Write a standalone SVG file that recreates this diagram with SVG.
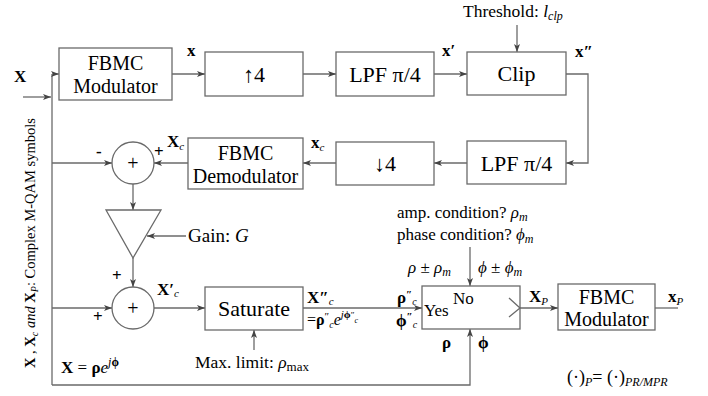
<svg xmlns="http://www.w3.org/2000/svg" width="708" height="396" viewBox="0 0 708 396" font-family="'Liberation Serif', 'DejaVu Serif', serif">
<defs>
<marker id="ah" viewBox="0 0 8 6" refX="8" refY="3" markerWidth="8" markerHeight="6" markerUnits="userSpaceOnUse" orient="auto">
<path d="M0,0 L8,3 L0,6 L2,3 Z" fill="#444"/>
</marker>
<style>
.box{fill:#fff;stroke:#6a6a6a;stroke-width:1.3}
.ln{fill:none;stroke:#6a6a6a;stroke-width:1.3}
.ar{fill:none;stroke:#6a6a6a;stroke-width:1.3;marker-end:url(#ah)}
text{font-family:"Liberation Serif","DejaVu Serif",serif;fill:#000}
.bt{font-size:20px;text-anchor:middle}
.bt2{font-size:22px;text-anchor:middle}
.lb{font-size:17px;font-weight:bold}
.it{font-style:italic}
.sm{font-size:17px}
.sub{font-size:11px}
</style>
</defs>
<rect width="708" height="396" fill="#fff"/>

<g id="connectors">
<path class="ar" d="M23,97 H51"/>
<path class="ln" d="M52,74 V385"/>
<path class="ar" d="M52,74 H59"/>
<path class="ar" d="M172,74 H205"/>
<path class="ar" d="M303,74 H336"/>
<path class="ar" d="M434,74 H467"/>
<path class="ar" d="M517,25 V52"/>
<path class="ar" d="M566,74 H588 V163 H566"/>
<path class="ar" d="M467,163 H434"/>
<path class="ar" d="M336,163 H303"/>
<path class="ar" d="M188,163 H154"/>
<path class="ar" d="M52,163 H112"/>
<path class="ar" d="M133,184 V210"/>
<path class="ar" d="M186,236 H147"/>
<path class="ar" d="M133,258 V287"/>
<path class="ar" d="M52,308 H112"/>
<path class="ar" d="M154,308 H205"/>
<path class="ar" d="M254,350 V330"/>
<path class="ar" d="M303,308 H422"/>
<path class="ar" d="M470,247 V286"/>
<path class="ar" d="M52,385 H470 V329"/>
<path class="ar" d="M520,308 H558"/>
<path class="ln" d="M655,308 H678"/>
</g>

<g id="fbmc-mod">
<rect class="box" x="59" y="48" width="113" height="52"/>
<text class="bt" x="115.5" y="70">FBMC</text>
<text class="bt" x="115.5" y="93">Modulator</text>
</g>
<g id="up4">
<rect class="box" x="205" y="52" width="98" height="44"/>
<text class="bt2" x="254" y="82">↑4</text>
</g>
<g id="lpf1">
<rect class="box" x="336" y="52" width="98" height="44"/>
<text class="bt2" x="385" y="82">LPF π/4</text>
</g>
<g id="clip">
<rect class="box" x="467" y="52" width="99" height="43"/>
<text class="bt2" x="516.5" y="81">Clip</text>
</g>
<g id="lpf2">
<rect class="box" x="467" y="141" width="99" height="43"/>
<text class="bt2" x="516.5" y="171">LPF π/4</text>
</g>
<g id="down4">
<rect class="box" x="336" y="142" width="98" height="43"/>
<text class="bt2" x="385" y="171">↓4</text>
</g>
<g id="fbmc-demod">
<rect class="box" x="188" y="138" width="115" height="51"/>
<text class="bt" x="245.5" y="160">FBMC</text>
<text class="bt" x="245.5" y="183">Demodulator</text>
</g>
<g id="sum1">
<circle class="box" cx="133" cy="163" r="21"/>
<text x="133" y="170" font-size="20" text-anchor="middle" fill="#555">+</text>
</g>
<g id="gain">
<path class="box" d="M106,210 L161,210 L133,258 Z"/>
</g>
<g id="sum2">
<circle class="box" cx="133" cy="308" r="21"/>
<text x="133" y="315" font-size="20" text-anchor="middle" fill="#555">+</text>
</g>
<g id="saturate">
<rect class="box" x="205" y="287" width="98" height="43"/>
<text class="bt2" x="254" y="316">Saturate</text>
</g>
<g id="switch">
<rect class="box" x="422" y="286" width="98" height="43"/>
<path class="ln" d="M509,298 L520,308 L509,317"/>
<text class="sm" x="424" y="316">Yes</text>
<text class="sm" x="453" y="304">No</text>
</g>
<g id="fbmc-mod2">
<rect class="box" x="558" y="284" width="97" height="46"/>
<text class="bt" x="606.5" y="304">FBMC</text>
<text class="bt" x="606.5" y="326">Modulator</text>
</g>

<g id="labels">
<text class="lb" x="14" y="82" font-size="16">X</text>
<text class="lb" x="187" y="56">x</text>
<text class="lb" x="442" y="56">x′</text>
<text class="lb" x="575" y="57">x″</text>
<text font-size="17.5" x="463" y="17">Threshold: <tspan class="it">l</tspan><tspan class="it" font-size="12" dy="3">clp</tspan></text>
<text class="lb" x="311" y="148">x<tspan class="it sub" font-weight="normal" dy="3">c</tspan></text>
<text class="lb" x="167" y="147">X<tspan class="it sub" font-weight="normal" dy="3">c</tspan></text>
<text class="lb" x="154" y="157">+</text>
<text class="lb" x="96" y="157">-</text>
<text font-size="19" x="188" y="242">Gain: <tspan class="it">G</tspan></text>
<text class="lb" x="112" y="281">+</text>
<text class="lb" x="93" y="322">+</text>
<text class="lb" x="157" y="295">X′<tspan class="it sub" font-weight="normal" font-size="13" dy="2">c</tspan></text>
<text class="lb" x="307" y="303">X″<tspan class="it sub" font-weight="normal" font-size="13" dy="2">c</tspan></text>
<text font-size="16" x="307" y="325">=<tspan font-weight="bold">ρ</tspan><tspan font-size="11" dy="-5">″</tspan><tspan class="it" font-size="10" dy="8">c</tspan><tspan class="it" dy="-3">e</tspan><tspan class="it" font-size="11" dy="-7">j</tspan><tspan font-size="11" font-weight="bold">ϕ</tspan><tspan font-size="9">″</tspan><tspan class="it" font-size="8" dy="5">c</tspan></text>
<text font-size="17.5" x="195" y="368">Max. limit: <tspan class="it">ρ</tspan><tspan font-size="13" dy="3">max</tspan></text>
<text font-size="17" x="397" y="218">amp. condition? <tspan class="it">ρ</tspan><tspan class="it" font-size="12" dy="3">m</tspan></text>
<text font-size="17" x="397" y="240">phase condition? <tspan class="it">ϕ</tspan><tspan class="it" font-size="12" dy="3">m</tspan></text>
<text font-size="17" x="408" y="273"><tspan class="it">ρ</tspan> ± <tspan class="it">ρ</tspan><tspan class="it" font-size="12" dy="3">m</tspan></text>
<text font-size="17" x="478" y="273"><tspan class="it">ϕ</tspan> ±  <tspan class="it">ϕ</tspan><tspan class="it" font-size="12" dy="3">m</tspan></text>
<text class="lb" x="397" y="303">ρ<tspan font-size="11" dy="-5">″</tspan><tspan class="it" font-size="10" font-weight="normal" dy="7">c</tspan></text>
<text class="lb" x="396" y="326">ϕ<tspan font-size="11" dy="-6">″</tspan><tspan class="it" font-size="10" font-weight="normal" dy="8">c</tspan></text>
<text class="lb" x="442" y="348">ρ</text>
<text class="lb" x="478" y="348">ϕ</text>
<text class="lb" x="529" y="302">X<tspan class="it sub" font-weight="normal" dy="3">P</tspan></text>
<text class="lb" x="668" y="302">x<tspan class="it sub" font-weight="normal" dy="3">P</tspan></text>
<text font-size="17" x="61" y="373"><tspan font-weight="bold">X</tspan> = <tspan font-weight="bold">ρ</tspan><tspan class="it">e</tspan><tspan class="it" font-size="12" dy="-7">j</tspan><tspan font-size="12" font-weight="bold">ϕ</tspan></text>
<text font-size="18" x="567" y="383">(·)<tspan class="it" font-size="12" dy="3">P</tspan><tspan dy="-3">= (·)</tspan><tspan class="it" font-size="12" dy="3">PR/MPR</tspan></text>
<text font-size="14.5" transform="translate(35,368) rotate(-90)"><tspan font-weight="bold">X</tspan> , <tspan font-weight="bold">X</tspan><tspan class="it" font-size="10" dy="3">c</tspan><tspan class="it" dy="-3"> and </tspan><tspan font-weight="bold">X</tspan><tspan class="it" font-size="10" dy="3">P</tspan><tspan dy="-3">: Complex M-QAM symbols</tspan></text>
</g>
</svg>
